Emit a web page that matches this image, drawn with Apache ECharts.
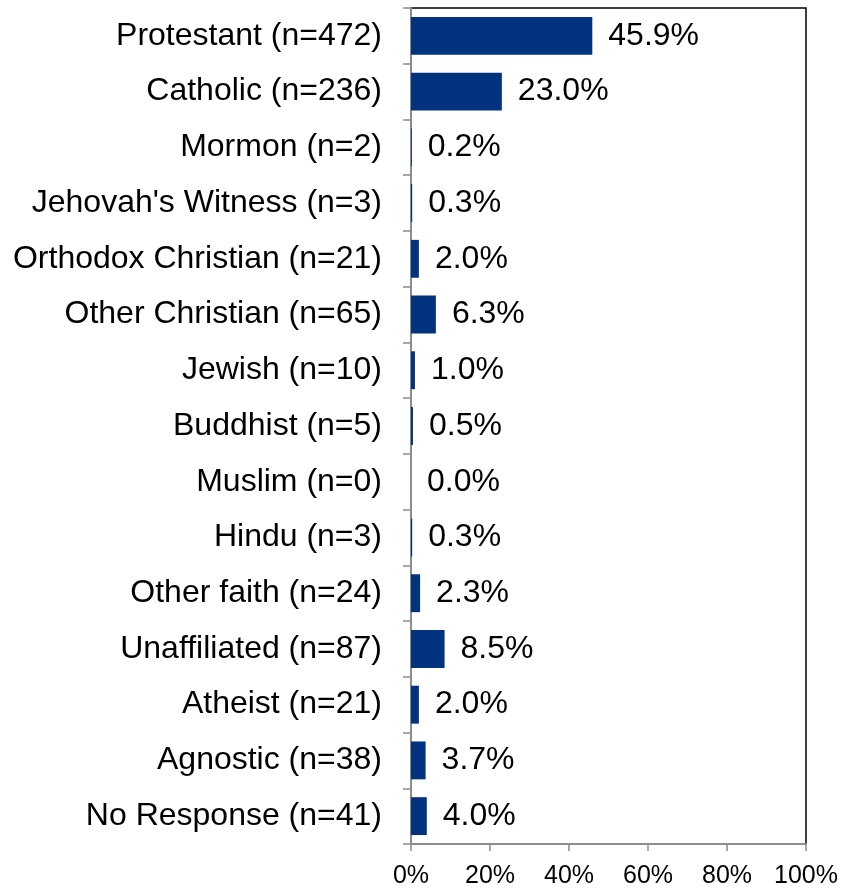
<!DOCTYPE html>
<html>
<head>
<meta charset="utf-8">
<script src="https://cdn.jsdelivr.net/npm/echarts@6/dist/echarts.min.js"></script>
<style>
  html, body { margin: 0; padding: 0; background: #fff; }
  #chart { width: 842px; height: 889px; }
</style>
</head>
<body>
<div id="chart"></div>
<script>
// Religious affiliation of respondents, share of total (%)
const categories = [
  'Protestant (n=472)',
  'Catholic (n=236)',
  'Mormon (n=2)',
  "Jehovah's Witness (n=3)",
  'Orthodox Christian (n=21)',
  'Other Christian (n=65)',
  'Jewish (n=10)',
  'Buddhist (n=5)',
  'Muslim (n=0)',
  'Hindu (n=3)',
  'Other faith (n=24)',
  'Unaffiliated (n=87)',
  'Atheist (n=21)',
  'Agnostic (n=38)',
  'No Response (n=41)'
];
const percentages = [45.9, 23.0, 0.2, 0.3, 2.0, 6.3, 1.0, 0.5, 0.0, 0.3, 2.3, 8.5, 2.0, 3.7, 4.0];
const xTicks = { min: 0, max: 100, interval: 20 };

const FONT = '"Liberation Sans", Arial, sans-serif';
const chart = echarts.init(document.getElementById('chart'), null, { renderer: 'canvas' });

chart.setOption({
  animation: false,
  backgroundColor: '#ffffff',
  grid: {
    left: 411, right: 36, top: 8, bottom: 45,
    show: true, borderColor: '#000000', borderWidth: 1.5, backgroundColor: 'transparent'
  },
  xAxis: {
    type: 'value',
    min: xTicks.min, max: xTicks.max, interval: xTicks.interval,
    axisLine: { show: true, lineStyle: { color: '#8c8c8c', width: 2 } },
    axisTick: { show: true, length: 7, lineStyle: { color: '#8c8c8c', width: 1.5 } },
    splitLine: { show: false },
    axisLabel: {
      formatter: '{value}%', color: '#000', fontFamily: FONT, fontSize: 25, margin: 20
    }
  },
  yAxis: {
    type: 'category',
    data: categories,
    inverse: true,
    axisLine: { show: true, lineStyle: { color: '#8c8c8c', width: 2 } },
    axisTick: { show: true, length: 8, lineStyle: { color: '#8c8c8c', width: 1.5 } },
    axisLabel: { color: '#000', fontFamily: FONT, fontSize: 32, margin: 29, padding: [5, 0, 0, 0] }
  },
  series: [{
    type: 'bar',
    data: percentages,
    barCategoryGap: '32%',
    itemStyle: { color: '#03337f' },
    label: {
      show: true,
      position: 'right',
      distance: 16,
      padding: [5, 0, 0, 0],
      formatter: p => p.value.toFixed(1) + '%',
      color: '#000',
      fontFamily: FONT,
      fontSize: 32
    }
  }]
});
</script>
</body>
</html>
